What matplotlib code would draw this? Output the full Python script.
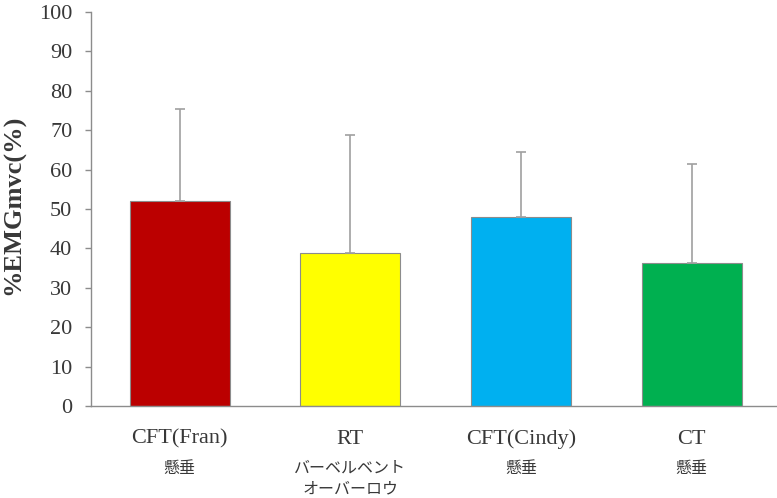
import matplotlib
matplotlib.use("Agg")
import matplotlib.pyplot as plt
import matplotlib.transforms as mtransforms

categories = ["CFT(Fran)", "RT", "CFT(Cindy)", "CT"]
sub_labels = ["懸垂", "バーベルベント\nオーバーロウ", "懸垂", "懸垂"]
means = [52.1, 38.9, 48.0, 36.4]
errors = [23.4, 29.9, 16.5, 24.9]
colors = ["#BB0000", "#FFFF00", "#00B0F0", "#00B050"]
yticks = list(range(0, 101, 10))

plt.rcParams['font.family'] = ['Liberation Serif', 'DejaVu Serif']

fig = plt.figure(figsize=(7.77, 4.98), dpi=100)
ax = fig.add_axes([91/777, 1-406/498, 1-91/777, (406-12)/498])

x = list(range(len(categories)))
ax.bar(x, means, width=0.585, color=colors, edgecolor="#8c8c8c", linewidth=0.8,
       yerr=[[0]*len(errors), errors], error_kw=dict(ecolor="#a0a0a0", elinewidth=1.2,
                                                     capsize=3.5, capthick=1.2),
       zorder=2)

ax.set_xlim(-0.52, 3.5)
ax.set_ylim(0, 100)
ax.set_yticks(yticks)
ax.set_xticks(x)
ax.set_xticklabels(categories, fontsize=16, color="#383838")
ax.tick_params(axis='x', length=0, pad=17)
ax.tick_params(axis='y', length=4.5, width=1, color="#8c8c8c", labelsize=16,
               labelcolor="#383838", pad=9)
for s in ["top", "right"]:
    ax.spines[s].set_visible(False)
for s in ["left", "bottom"]:
    ax.spines[s].set_color("#8c8c8c")
    ax.spines[s].set_linewidth(1)

fig.text(14/777, 1-205/498, "%EMGmvc(%)", rotation=90, ha="center", va="center",
         fontsize=19, fontweight="bold", color="#383838")

trans = mtransforms.blended_transform_factory(ax.transData, fig.transFigure)
for xi, lab in zip(x, sub_labels):
    ax.text(xi, 1-460/498, lab, transform=trans, ha="center", va="top",
            fontsize=11.5, color="#383838", linespacing=1.25,
            family=["Noto Sans CJK JP", "DejaVu Sans"])

fig.savefig("out.png", dpi=100)
